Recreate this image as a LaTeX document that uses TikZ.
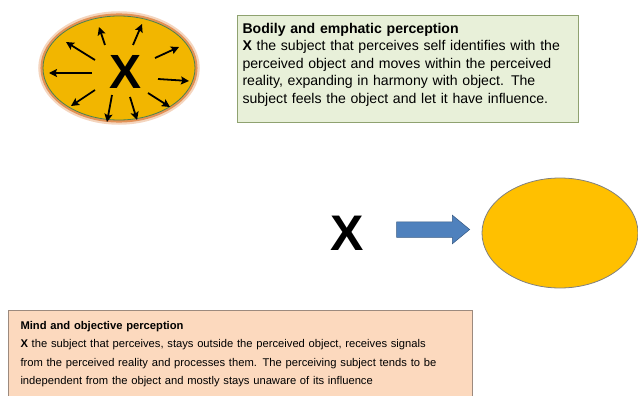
\documentclass[tikz,border=0pt]{standalone}
\usepackage{fontspec}
\setmainfont{Liberation Sans}
\usepackage{tikz}
\usetikzlibrary{arrows.meta,shapes.arrows}

\definecolor{gold}{HTML}{F2B600}
\definecolor{amber}{HTML}{FFC000}
\definecolor{glow}{HTML}{DC7428}
\definecolor{boxgreen}{HTML}{E8F0D9}
\definecolor{linegreen}{HTML}{8FA270}
\definecolor{peach}{HTML}{FCD9BE}
\definecolor{linepeach}{HTML}{9C8A7E}
\definecolor{arrowblue}{HTML}{4F81BD}

\tikzset{
 infobox/.style={draw,line width=1pt,align=left,anchor=north west,inner sep=5pt},
 bigx/.style={font=\fontsize{50}{50}\selectfont\bfseries,inner sep=0pt},
 ray/.style={line width=1.8pt,-{Stealth[length=8pt,width=8pt,inset=1.5pt]}}
}

\begin{document}
\begin{tikzpicture}[x=1pt,y=-1pt]
 \useasboundingbox (0,0) rectangle (638,396);
 % immersed subject: X spreading out inside the object
 \draw[glow,line width=4.5pt,opacity=0.3] (119,68) ellipse (78.5 and 54.5);
 \draw[glow,line width=2.5pt,opacity=0.7] (119,68) ellipse (77.3 and 53.3);
 \draw[fill=gold,draw=black!50!green!40!gray,line width=0.8pt] (119,68) ellipse (76 and 52);
 \node[bigx,font=\fontsize{48}{48}\selectfont\bfseries] (innerx) at (126,72) {X};
 \foreach \sx/\sy/\ex/\ey in {105/45/99/27, 133/45/142/24, 95/60/66/42, 155/58/179/47,
   92/73/49/73, 158/79/189/81, 95/90/71/106, 112/95/107/122, 130/97/137/120, 148/93/170/107}
  \draw[ray] (\sx,\sy) -- (\ex,\ey);
 \node[infobox,fill=boxgreen,draw=linegreen,text width=331pt,
  font=\fontsize{14.1}{17.5}\selectfont] (bodily) at (237,15)
  {\rule{0pt}{13pt}\textbf{Bodily and emphatic perception}\\
   \textbf{X} the subject that perceives self identifies with the\\
   perceived object and moves within the perceived\\
   reality, expanding in harmony with object. The\\
   subject feels the object and let it have influence.\rule[-14pt]{0pt}{14pt}};
 % detached subject: X facing the object
 \node[bigx] (outerx) at (347,233) {X};
 \draw[fill=amber,draw=gray,line width=0.8pt] (560,233) ellipse (78 and 55);
 \node[single arrow,fill=arrowblue,draw=arrowblue!70!black,line width=0.5pt,minimum height=73pt,
  inner xsep=0pt,inner ysep=7.5pt,single arrow head extend=6.5pt,single arrow tip angle=79,
  shape border rotate=0] (push) at (428.5,229.5) {};
 \node[infobox,fill=peach,draw=linepeach,text width=440pt,inner xsep=12pt,
  font=\fontsize{11.2}{18.3}\selectfont] (mind) at (8,310)
  {\rule{0pt}{14pt}\textbf{Mind and objective perception}\\
   \textbf{X} the subject that perceives, stays outside the perceived object, receives signals\\
   from the perceived reality and processes them. The perceiving subject tends to be\\
   independent from the object and mostly stays unaware of its influence\rule[-20pt]{0pt}{20pt}};
\end{tikzpicture}
\end{document}
